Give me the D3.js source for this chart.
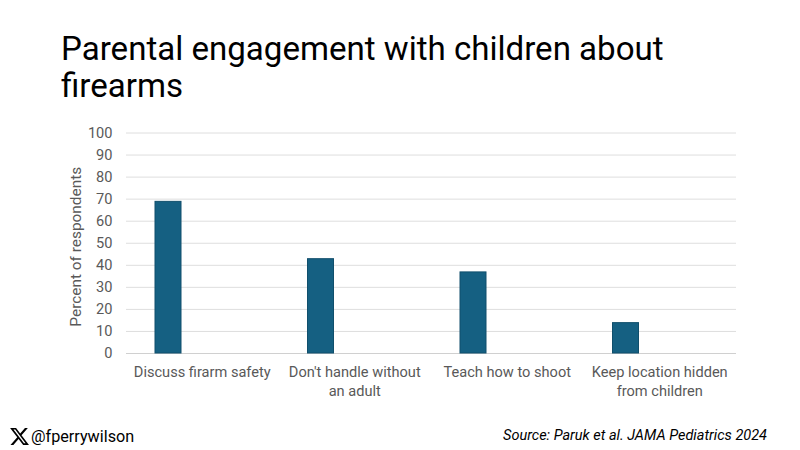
<!DOCTYPE html>
<html>
<head>
<meta charset="utf-8">
<script src="https://cdn.jsdelivr.net/npm/d3@7"></script>
<style>
body { margin: 0; background: #fff; }
text { font-family: Roboto, sans-serif; }
</style>
</head>
<body>
<div id="chart"></div>
<script>
var categories = [["Discuss firarm safety"], ["Don't handle without", "an adult"], ["Teach how to shoot"], ["Keep location hidden", "from children"]];
var values = [69, 43, 37, 14];
var yTicks = [0, 10, 20, 30, 40, 50, 60, 70, 80, 90, 100];
var titleLines = ["Parental engagement with children about", "firearms"];

var width = 800, height = 450;
var margin = {top: 132.5, right: 64, bottom: 97, left: 126};

var svg = d3.select("#chart").append("svg")
    .attr("width", width)
    .attr("height", height);

var x = d3.scaleBand()
    .domain(d3.range(categories.length))
    .range([margin.left, width - margin.right]);

var y = d3.scaleLinear()
    .domain([0, 100])
    .range([height - margin.bottom, margin.top]);

svg.append("g")
    .selectAll("text")
    .data(titleLines)
    .enter().append("text")
    .attr("x", 61)
    .attr("y", function(d, i) { return 60 + i * 37; })
    .attr("font-size", 33.1)
    .attr("fill", "#000")
    .text(function(d) { return d; });

// gridlines and y labels
svg.append("g")
    .attr("transform", "translate(" + margin.left + ",0)")
    .call(d3.axisLeft(y).tickValues(yTicks).tickSize(-(width - margin.left - margin.right)).tickPadding(13.5))
    .call(function(g) { g.select(".domain").remove(); })
    .call(function(g) { g.selectAll("line").attr("stroke", "#dedede"); })
    .call(function(g) { g.selectAll("text").attr("font-size", 14.6).attr("font-family", "Roboto").attr("fill", "#595959"); });

svg.append("line")
    .attr("x1", margin.left).attr("x2", width - margin.right)
    .attr("y1", y(0) + 0.5).attr("y2", y(0) + 0.5)
    .attr("stroke", "#d0d0d0");

svg.append("text")
    .attr("transform", "translate(81," + (y(50) + 4) + ") rotate(-90)")
    .attr("text-anchor", "middle")
    .attr("font-size", 15.4)
    .attr("fill", "#595959")
    .text("Percent of respondents");

svg.append("g")
    .selectAll("rect")
    .data(values)
    .enter().append("rect")
    .attr("x", function(d, i) { return x(i) + 29; })
    .attr("width", 26)
    .attr("y", function(d) { return y(d) + 0.5; })
    .attr("height", function(d) { return y(0) - y(d) - 0.5; })
    .attr("fill", "#156082")
    .attr("stroke", "#104f6c")
    .attr("stroke-width", 1);

var catLabels = svg.append("g")
    .selectAll("text")
    .data(categories)
    .enter().append("text")
    .attr("text-anchor", "middle")
    .attr("font-size", 14.6)
    .attr("fill", "#595959")
    .attr("y", 377);

catLabels.selectAll("tspan")
    .data(function(d, i) { return d.map(function(s) { return {s: s, i: i}; }); })
    .enter().append("tspan")
    .attr("x", function(d) { return x(d.i) + x.bandwidth() / 2; })
    .attr("dy", function(d, j) { return j ? 19 : 0; })
    .text(function(d) { return d.s; });

// footer: X logo, then handle and source
svg.append("path")
    .attr("transform", "translate(9,426) scale(0.875)")
    .attr("d", "M18.244 2.25h3.308l-7.227 8.26 8.502 11.24H16.17l-5.214-6.817L4.99 21.75H1.68l7.73-8.835L1.254 2.25H8.08l4.713 6.231zm-1.161 17.52h1.833L7.084 4.126H5.117z")
    .attr("fill", "#000");

svg.append("text")
    .attr("x", 31)
    .attr("y", 442)
    .attr("font-size", 16.2)
    .attr("fill", "#000")
    .text("@fperrywilson");

svg.append("text")
    .attr("x", 767)
    .attr("y", 440)
    .attr("text-anchor", "end")
    .attr("font-size", 14.5)
    .attr("font-style", "italic")
    .attr("fill", "#000")
    .text("Source: Paruk et al. JAMA Pediatrics 2024");
</script>
</body>
</html>
